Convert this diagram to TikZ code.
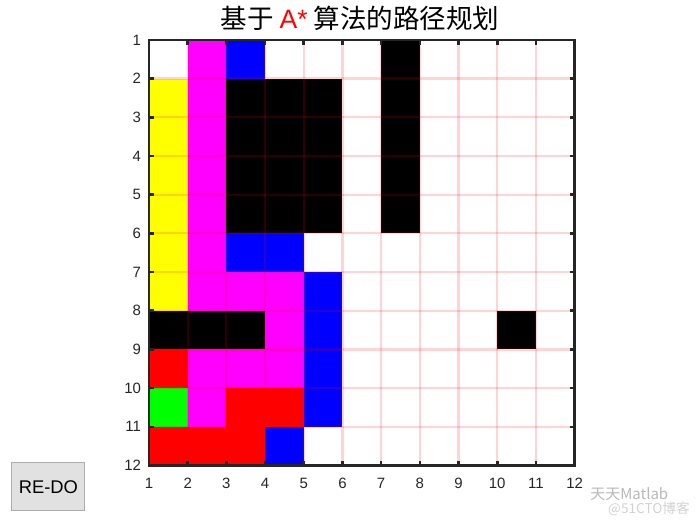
\documentclass[tikz,border=0pt]{standalone}
\usepackage{fontspec}
\setmainfont{Liberation Sans}
\newfontfamily\cjk{Noto Sans CJK SC}
\usepackage{xcolor}
\usepackage{tikz}
\usetikzlibrary{positioning,calc}
\definecolor{axisgray}{HTML}{262626}
\definecolor{btnface}{HTML}{E1E1E1}
\definecolor{btnedge}{HTML}{ADADAD}
\definecolor{pathmag}{RGB}{255,0,255}
\definecolor{openblue}{RGB}{0,0,255}
\definecolor{closedyel}{RGB}{255,255,0}
\definecolor{startgreen}{RGB}{0,255,0}
\definecolor{goalred}{RGB}{255,0,0}

\begin{document}
\begin{tikzpicture}[x=1cm,y=-1cm,
    ticklabel/.style={font=\fontsize{11}{12}\selectfont, text=axisgray, inner sep=0pt},
    gridline/.style={draw=goalred, opacity=0.17, line width=1.6pt},
    cell/.style={fill=#1}]
    \useasboundingbox (-2.85,-0.03) rectangle (15.24,13.53);

    % Cells
    \foreach \y in {1,...,10} \fill[cell=pathmag] (2,\y) rectangle ++(1,1);
    \foreach \y in {2,...,7} \fill[cell=closedyel] (1,\y) rectangle ++(1,1);
    \foreach \y in {1,...,5} \fill[cell=black] (7,\y) rectangle ++(1,1);
    \fill[cell=black] (3,2) rectangle (6,6);
    \fill[cell=black] (1,8) rectangle (4,9);
    \fill[cell=black] (10,8) rectangle (11,9);
    \fill[cell=openblue] (3,1) rectangle (4,2);
    \fill[cell=openblue] (3,6) rectangle (5,7);
    \fill[cell=openblue] (5,7) rectangle (6,11);
    \fill[cell=openblue] (4,11) rectangle (5,12);
    \fill[cell=pathmag] (3,7) rectangle (5,8);
    \fill[cell=pathmag] (4,8) rectangle (5,9);
    \fill[cell=pathmag] (3,9) rectangle (5,10);
    \fill[cell=goalred] (1,9) rectangle (2,10);
    \fill[cell=startgreen] (1,10) rectangle (2,11);
    \fill[cell=goalred] (3,10) rectangle (5,11);
    \fill[cell=goalred] (1,11) rectangle (4,12);

    % Grid
    \foreach \i in {2,...,11} {
        \draw[gridline] (\i,1) -- (\i,12);
        \draw[gridline] (1,\i) -- (12,\i);
    }

    % Axes
    \draw[axisgray, line width=1.9pt] (1,1) rectangle (12,12);
    \foreach \i in {1,...,12} {
        \draw[axisgray, line width=1.9pt] (\i,12) -- ++(0,-0.12);
        \draw[axisgray, line width=1.9pt] (\i,1) -- ++(0,0.12);
        \draw[axisgray, line width=1.9pt] (1,\i) -- ++(0.12,0);
        \draw[axisgray, line width=1.9pt] (12,\i) -- ++(-0.12,0);
        \node[ticklabel, anchor=east] (yl\i) at (0.8,\i) {\i};
        \node[ticklabel, anchor=north] (xl\i) at (\i,12.33) {\i};
    }

    % Title
    \node[font=\fontsize{19.5}{21}\selectfont] (title) at (6.45,0.45)
        {\cjk 基于 \textcolor{goalred}{\normalfont A*} 算法的路径规划};

    % Button
    \node[draw=btnedge, fill=btnface, line width=0.8pt, minimum width=1.89cm,
        minimum height=1.24cm, font=\fontsize{13.5}{15}\selectfont] (redo)
        at (-1.6,12.55) {RE-DO};

    % Watermark
    \node[anchor=west, text=gray!55, font=\fontsize{11}{12}\selectfont, inner sep=0pt]
        (wm) at (12.4,12.73) {\cjk 天天Matlab};
    \node[anchor=west, text=gray!35, font=\fontsize{10}{12}\selectfont, inner sep=0pt]
        (site) at (12.86,13.13) {\cjk @51CTO博客};
\end{tikzpicture}
\end{document}
